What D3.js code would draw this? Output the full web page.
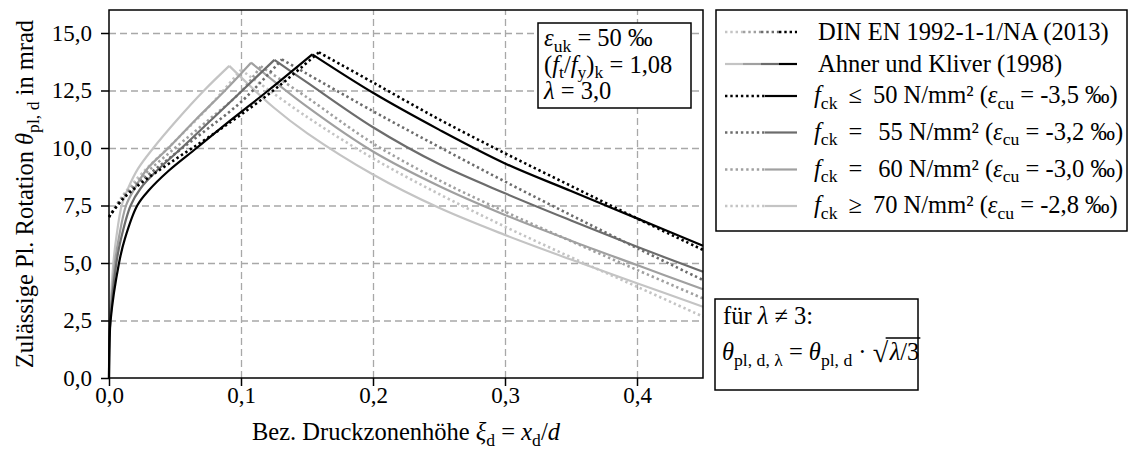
<!DOCTYPE html>
<html>
<head>
<meta charset="utf-8">
<script src="https://cdn.jsdelivr.net/npm/d3@7"></script>
<style>
  body { margin: 0; background: #fff; }
  svg, svg g, svg text { font-family: "Liberation Serif", "Times New Roman", serif; }
  svg text { white-space: pre; fill: #000; }
  .grid line { stroke: #a8a8a8; stroke-width: 1.3; stroke-dasharray: 7,4; }
  .grid .domain { display: none; }
  .axis path, .axis line { stroke: #000; stroke-width: 1.5; }
  .axis text { font-size: 23px; }
</style>
</head>
<body>
<div id="chart"></div>
<script>
// ---- data ----
const xTicks = [0, 0.1, 0.2, 0.3, 0.4];
const yTicks = [0, 2.5, 5, 7.5, 10, 12.5, 15];

// Ahner und Kliver (1998): [xi_d, theta_pl,d]
const ahner50 = [[0,0],[0.0004,1.5],[0.0012,2.5],[0.0076,5],[0.012,6.05],[0.0214,7.5],[0.03,8.15],[0.045,9.0],[0.0664,10],[0.092,11.2],[0.1207,12.5],[0.154,14.07],
  [0.2,12.4],[0.25,10.8],[0.3,9.33],[0.35,8.13],[0.4,6.94],[0.45,5.75]];
const ahner55 = [[0,0],[0.0003,1.5],[0.001,2.5],[0.0056,5],[0.009,6.03],[0.0164,7.5],[0.024,8.25],[0.036,9.0],[0.055,10],[0.078,11.25],[0.101,12.5],[0.1253,13.83],
  [0.15,12.85],[0.2,10.9],[0.25,9.3],[0.3,8.03],[0.35,6.85],[0.4,5.71],[0.45,4.62]];
const ahner60 = [[0,0],[0.0003,1.5],[0.0008,2.5],[0.0045,5],[0.0075,6.11],[0.0129,7.5],[0.019,8.2],[0.029,9.1],[0.045,10],[0.066,11.25],[0.0879,12.5],[0.1076,13.71],
  [0.15,11.8],[0.2,9.85],[0.25,8.35],[0.3,7.09],[0.35,5.97],[0.4,4.91],[0.45,3.86]];
const ahner70 = [[0,0],[0.0002,1.5],[0.0007,2.5],[0.0033,5],[0.0055,6.09],[0.0096,7.5],[0.0145,8.25],[0.022,9.1],[0.0336,10],[0.052,11.25],[0.072,12.5],[0.0911,13.57],
  [0.125,11.75],[0.15,10.65],[0.2,8.85],[0.25,7.4],[0.3,6.22],[0.35,5.15],[0.4,4.12],[0.45,3.1]];

// DIN EN 1992-1-1/NA (2013)
const din50 = [[0,7.0],[0.01,7.75],[0.025,8.5],[0.05,9.5],[0.075,10.45],[0.1,11.45],[0.13,12.75],[0.159,14.16],
  [0.2,12.85],[0.25,11.25],[0.3,9.77],[0.35,8.35],[0.4,6.94],[0.45,5.57]];
const din55 = [[0,7.0],[0.01,7.8],[0.025,8.6],[0.05,9.75],[0.075,10.85],[0.1,12.0],[0.131,13.85],
  [0.2,11.6],[0.25,10.05],[0.3,8.54],[0.35,7.08],[0.4,5.65],[0.45,4.26]];
const din60 = [[0,7.0],[0.01,7.85],[0.025,8.75],[0.05,10.0],[0.075,11.2],[0.1,12.45],[0.115,13.55],
  [0.15,12.2],[0.2,10.2],[0.25,8.6],[0.3,7.23],[0.35,5.95],[0.4,4.7],[0.45,3.46]];
const din70 = [[0,7.0],[0.01,7.9],[0.025,8.9],[0.05,10.3],[0.075,11.75],[0.1,13.4],
  [0.15,11.35],[0.2,9.55],[0.25,8.0],[0.3,6.58],[0.35,5.25],[0.4,3.97],[0.45,2.67]];

const gradeLabels = [
  ['≤', '50', '-3,5'],
  ['=', '\u200955', '-3,2'],
  ['=', '\u200960', '-3,0'],
  ['≥', '70', '-2,8']
];

// ---- layout ----
const W = 1130, H = 452;
const margin = {top: 10, right: 427, bottom: 74, left: 109};
const width = W - margin.left - margin.right;
const height = H - margin.top - margin.bottom;
const greys = ['#000000', '#6c6c6c', '#a0a0a0', '#c4c4c4'];
const FS = 24.5;

const series = [
  {values: ahner70, color: greys[3], dotted: false},
  {values: din70, color: greys[3], dotted: true},
  {values: ahner60, color: greys[2], dotted: false},
  {values: din60, color: greys[2], dotted: true},
  {values: ahner55, color: greys[1], dotted: false},
  {values: din55, color: greys[1], dotted: true},
  {values: ahner50, color: greys[0], dotted: false},
  {values: din50, color: greys[0], dotted: true}
];

const fmt = d3.formatLocale({decimal: ',', thousands: '.', grouping: [3], currency: ['', '']}).format('.1f');

const svg = d3.select('#chart').append('svg')
  .attr('width', W)
  .attr('height', H);

const g = svg.append('g')
  .attr('transform', `translate(${margin.left},${margin.top})`);

const x = d3.scaleLinear().domain([0, 0.45]).range([0, width]);
const y = d3.scaleLinear().domain([0, 16]).range([height, 0]);

// rich text helper: parts are strings or [text, flags] with i = italic, s = subscript
function rich(sel, parts, fs) {
  let sub = false;
  parts.forEach(p => {
    const [str, f] = typeof p === 'string' ? [p, ''] : p;
    const isSub = f.includes('s');
    const ts = sel.append('tspan').text(str);
    if (f.includes('i')) ts.attr('font-style', 'italic');
    if (isSub) ts.attr('font-size', fs * 0.72);
    if (isSub && !sub) ts.attr('dy', fs * 0.24);
    if (!isSub && sub) ts.attr('dy', -fs * 0.24);
    sub = isSub;
  });
  return sel;
}

// grid
g.append('g').attr('class', 'grid')
  .call(d3.axisLeft(y).tickValues(yTicks.filter(d => d > 0)).tickSize(-width).tickFormat(''));
g.append('g').attr('class', 'grid')
  .attr('transform', `translate(0,${height})`)
  .call(d3.axisBottom(x).tickValues(xTicks.filter(d => d > 0)).tickSize(-height).tickFormat(''));

// curves, split at the peak so the corner stays sharp
const line = d3.line()
  .x(d => x(d[0]))
  .y(d => y(d[1]))
  .curve(d3.curveCatmullRom.alpha(0.5));

series.forEach(s => {
  const iMax = d3.maxIndex(s.values, d => d[1]);
  [s.values.slice(0, iMax + 1), s.values.slice(iMax)].forEach(part => {
    g.append('path')
      .attr('d', line(part))
      .attr('fill', 'none')
      .attr('stroke', s.color)
      .attr('stroke-width', s.dotted ? 2.6 : 2.2)
      .attr('stroke-dasharray', s.dotted ? '2.4,2.9' : null);
  });
});

// frame + axes
g.append('rect')
  .attr('width', width).attr('height', height)
  .attr('fill', 'none').attr('stroke', '#000').attr('stroke-width', 1.5);

g.append('g').attr('class', 'axis')
  .call(d3.axisLeft(y).tickValues(yTicks).tickSize(8).tickPadding(9).tickFormat(fmt))
  .attr('font-family', null)
  .call(a => a.select('.domain').remove());

g.append('g').attr('class', 'axis')
  .attr('transform', `translate(0,${height})`)
  .call(d3.axisBottom(x).tickValues(xTicks).tickSize(8).tickPadding(1).tickFormat(fmt))
  .attr('font-family', null)
  .call(a => a.select('.domain').remove());

// axis titles
rich(svg.append('text')
  .attr('transform', `translate(33,${margin.top + height / 2}) rotate(-90)`)
  .attr('text-anchor', 'middle')
  .attr('font-size', FS),
  ['Zulässige Pl. Rotation ', ['θ', 'i'], ['pl, d', 's'], ' in mrad'], FS);

rich(svg.append('text')
  .attr('x', margin.left + width / 2).attr('y', 440)
  .attr('text-anchor', 'middle')
  .attr('font-size', FS),
  ['Bez. Druckzonenhöhe ', ['ξ', 'i'], ['d', 's'], ' = ', ['x', 'i'], ['d', 's'], '/', ['d', 'i']], FS);

// parameter box (top left inside plot)
svg.append('rect')
  .attr('x', 538).attr('y', 23).attr('width', 153).attr('height', 85)
  .attr('fill', '#fff').attr('stroke', '#000').attr('stroke-width', 1.5);
const boxLines = [
  [['ε', 'i'], ['uk', 's'], ' = 50 ‰'],
  ['(', ['f', 'i'], ['t', 's'], '/', ['f', 'i'], ['y', 's'], ')', ['k', 's'], ' = 1,08'],
  [['λ', 'i'], ' = 3,0']
];
boxLines.forEach((parts, i) => {
  rich(svg.append('text').attr('x', 544).attr('y', 46 + i * 26.5).attr('font-size', FS), parts, FS);
});

// legend
const lg = svg.append('g');
lg.append('rect')
  .attr('x', 716).attr('y', 10).attr('width', 411).attr('height', 221)
  .attr('fill', '#fff').attr('stroke', '#000').attr('stroke-width', 1.5);

const rowY = [32, 64, 96, 132.5, 169.5, 206];
const sx0 = 725, sx1 = 797;

function sample(x0, x1, yy, color, dotted) {
  lg.append('line')
    .attr('x1', x0).attr('x2', x1).attr('y1', yy).attr('y2', yy)
    .attr('stroke', color)
    .attr('stroke-width', dotted ? 2.6 : 2.2)
    .attr('stroke-dasharray', dotted ? '2.4,2.9' : null);
}

const seg = (sx1 - sx0) / 4;
greys.slice().reverse().forEach((c, i) => sample(sx0 + i * seg, sx0 + (i + 1) * seg, rowY[0], c, true));
greys.slice().reverse().forEach((c, i) => sample(sx0 + i * seg, sx0 + (i + 1) * seg, rowY[1], c, false));
greys.forEach((c, i) => {
  sample(sx0, 765, rowY[i + 2], c, true);
  sample(765, sx1, rowY[i + 2], c, false);
});

const tx = 818;
lg.append('text').attr('x', tx).attr('y', rowY[0] + 8).attr('font-size', FS).text('DIN EN 1992-1-1/NA (2013)');
lg.append('text').attr('x', tx).attr('y', rowY[1] + 8).attr('font-size', FS).text('Ahner und Kliver (1998)');
gradeLabels.forEach((d, i) => {
  rich(lg.append('text').attr('x', tx - 4).attr('y', rowY[i + 2] + 7).attr('font-size', FS),
    [['f', 'i'], ['ck', 's'], ` \u2009${d[0]}\u2009 ${d[1]} N/mm² (`, ['ε', 'i'], ['cu', 's'], ` = ${d[2]} ‰)`], FS);
});

// lambda note box
svg.append('rect')
  .attr('x', 715).attr('y', 299).attr('width', 203).attr('height', 91)
  .attr('fill', '#fff').attr('stroke', '#000').attr('stroke-width', 1.5);
rich(svg.append('text').attr('x', 723).attr('y', 324).attr('font-size', FS),
  ['für ', ['λ', 'i'], ' ≠ 3:'], FS);
const f1 = rich(svg.append('text').attr('x', 722).attr('y', 360).attr('font-size', FS),
  [['θ', 'i'], ['pl, d, λ', 's'], ' = ', ['θ', 'i'], ['pl, d', 's'], ' · '], FS);
const fx = 722 + f1.node().getComputedTextLength();
svg.append('text').attr('x', fx).attr('y', 362).attr('font-size', FS * 1.15).text('√');
const f2 = rich(svg.append('text').attr('x', fx + 17).attr('y', 360).attr('font-size', FS),
  [['λ', 'i'], '/3'], FS);
const f2w = f2.node().getComputedTextLength();
svg.append('line')
  .attr('x1', fx + 13).attr('x2', fx + 17 + f2w + 1)
  .attr('y1', 338).attr('y2', 338)
  .attr('stroke', '#000').attr('stroke-width', 1.3);
</script>
</body>
</html>
